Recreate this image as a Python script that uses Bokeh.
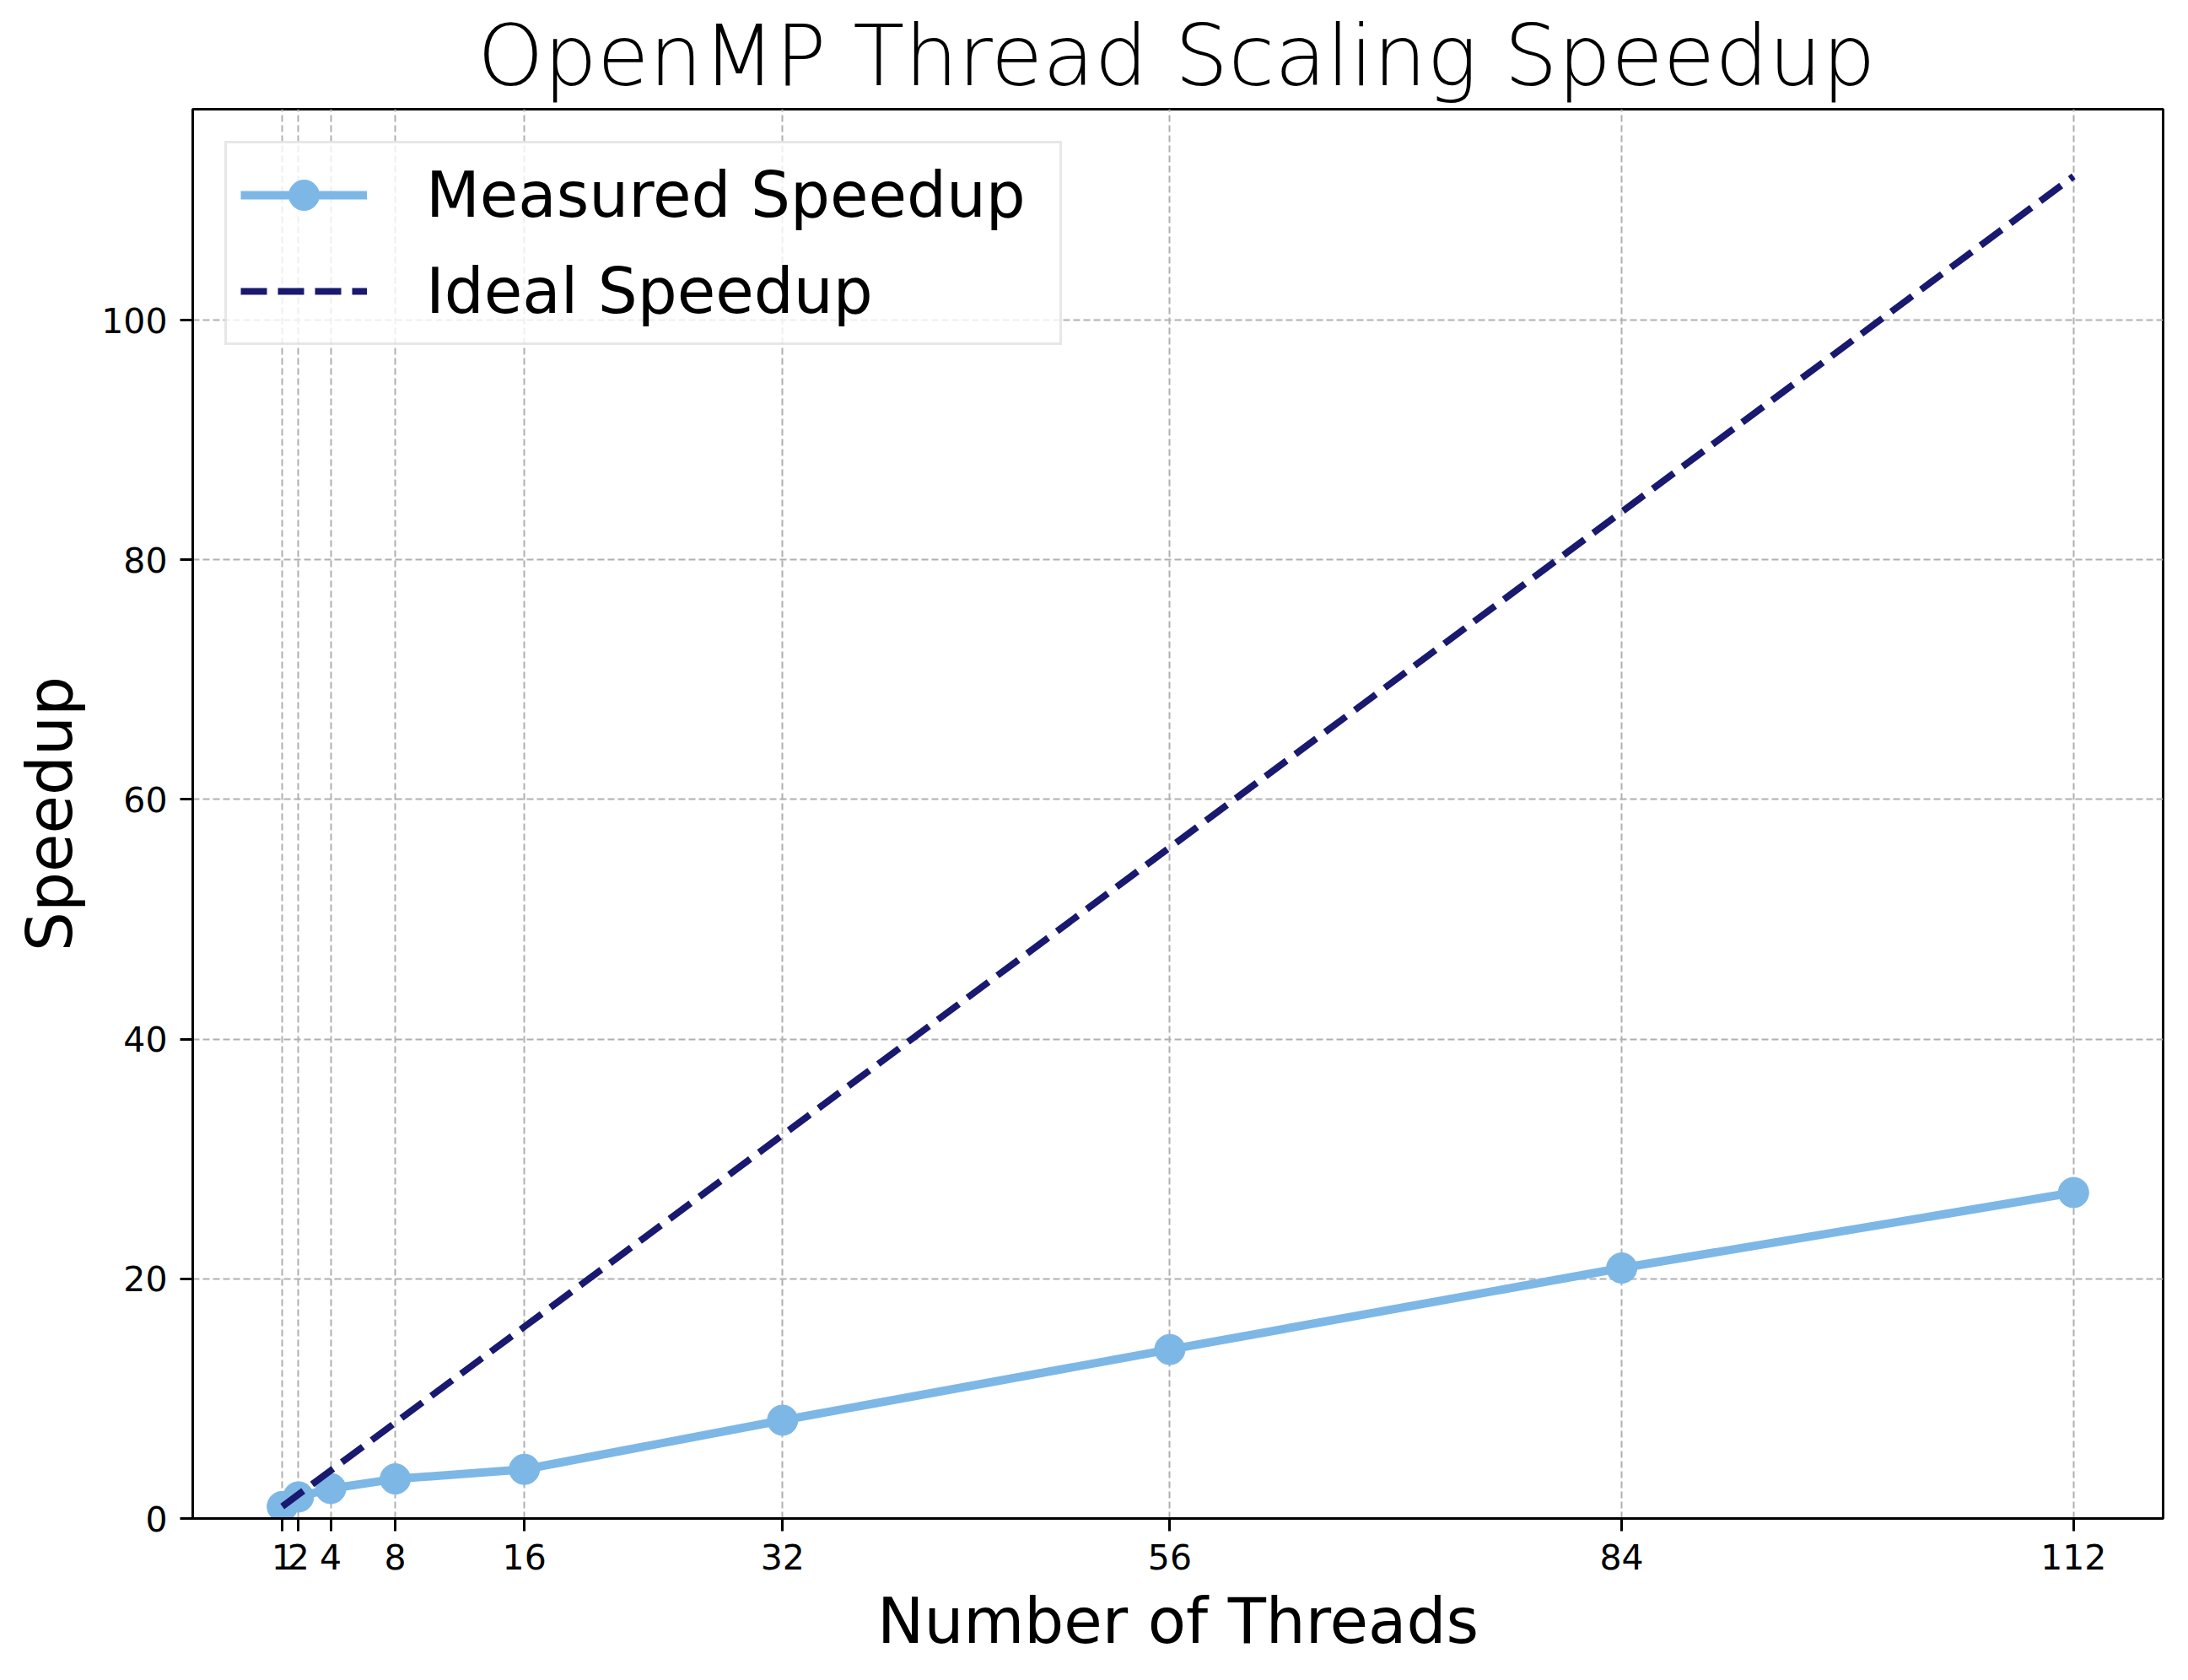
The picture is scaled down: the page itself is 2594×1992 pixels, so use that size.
from bokeh.plotting import figure
from bokeh.models import Range1d, FixedTicker, Legend, LegendItem
from bokeh.embed import file_html
from bokeh.resources import INLINE

threads = [1, 2, 4, 8, 16, 32, 56, 84, 112]
measured = [1.0, 1.8, 2.5, 3.3, 4.1, 8.2, 14.1, 20.9, 27.2]
ideal = [1, 2, 4, 8, 16, 32, 56, 84, 112]
y_ticks = [0, 20, 40, 60, 80, 100]

FONT = "DejaVu Sans"

p = figure(width=2594, height=1992, output_backend="svg", toolbar_location=None,
           x_range=Range1d(-4.55, 117.55), y_range=Range1d(0, 117.6),
           min_border_left=228, min_border_right=30, min_border_top=129,
           min_border_bottom=192)

p.title.text = "OpenMP Thread Scaling Speedup"
p.title.text_font = FONT
p.title.text_font_size = "100px"
p.title.text_font_style = "normal"
p.title.text_color = "black"
p.title.align = "center"
p.title.standoff = 10

l1 = p.line(threads, measured, line_color="#7DB7E6", line_width=10)
c1 = p.scatter(threads, measured, size=36, fill_color="#7DB7E6", line_color="#7DB7E6")
l2 = p.line(threads, ideal, line_color="#191970", line_width=8, line_dash="31 13")

legend = Legend(items=[LegendItem(label="Measured Speedup", renderers=[l1, c1]),
                       LegendItem(label="Ideal Speedup", renderers=[l2])],
                location="top_left")
legend.label_text_font = FONT
legend.label_text_font_size = "74px"
legend.label_text_color = "black"
legend.glyph_width = 150
legend.glyph_height = 90
legend.label_height = 74
legend.label_width = 735
legend.label_standoff = 70
legend.spacing = 24
legend.padding = 16
legend.margin = 38
legend.border_line_color = "#d0d0d0"
legend.border_line_width = 3
legend.background_fill_alpha = 0.8
p.add_layout(legend)

p.xaxis.ticker = FixedTicker(ticks=threads)
p.yaxis.ticker = FixedTicker(ticks=y_ticks)
p.xaxis.axis_label = "Number of Threads"
p.yaxis.axis_label = "Speedup"
for ax in (p.xaxis, p.yaxis):
    ax.axis_label_text_font = FONT
    ax.axis_label_text_font_size = "74px"
    ax.axis_label_text_font_style = "normal"
    ax.axis_label_text_color = "black"
    ax.axis_label_standoff = 15
    ax.major_label_text_font = FONT
    ax.major_label_text_font_size = "41px"
    ax.major_label_text_color = "black"
    ax.major_label_standoff = 15
    ax.major_tick_out = 15
    ax.major_tick_in = 0
    ax.minor_tick_out = 0
    ax.minor_tick_in = 0
    ax.major_tick_line_width = 3
    ax.axis_line_width = 3
    ax.axis_line_color = "black"
    ax.major_tick_line_color = "black"

p.outline_line_color = "black"
p.outline_line_width = 3
p.grid.grid_line_color = "#b0b0b0"
p.grid.grid_line_width = 2
p.grid.grid_line_dash = "8 4"

open("out.html", "w").write(file_html(p, INLINE))
